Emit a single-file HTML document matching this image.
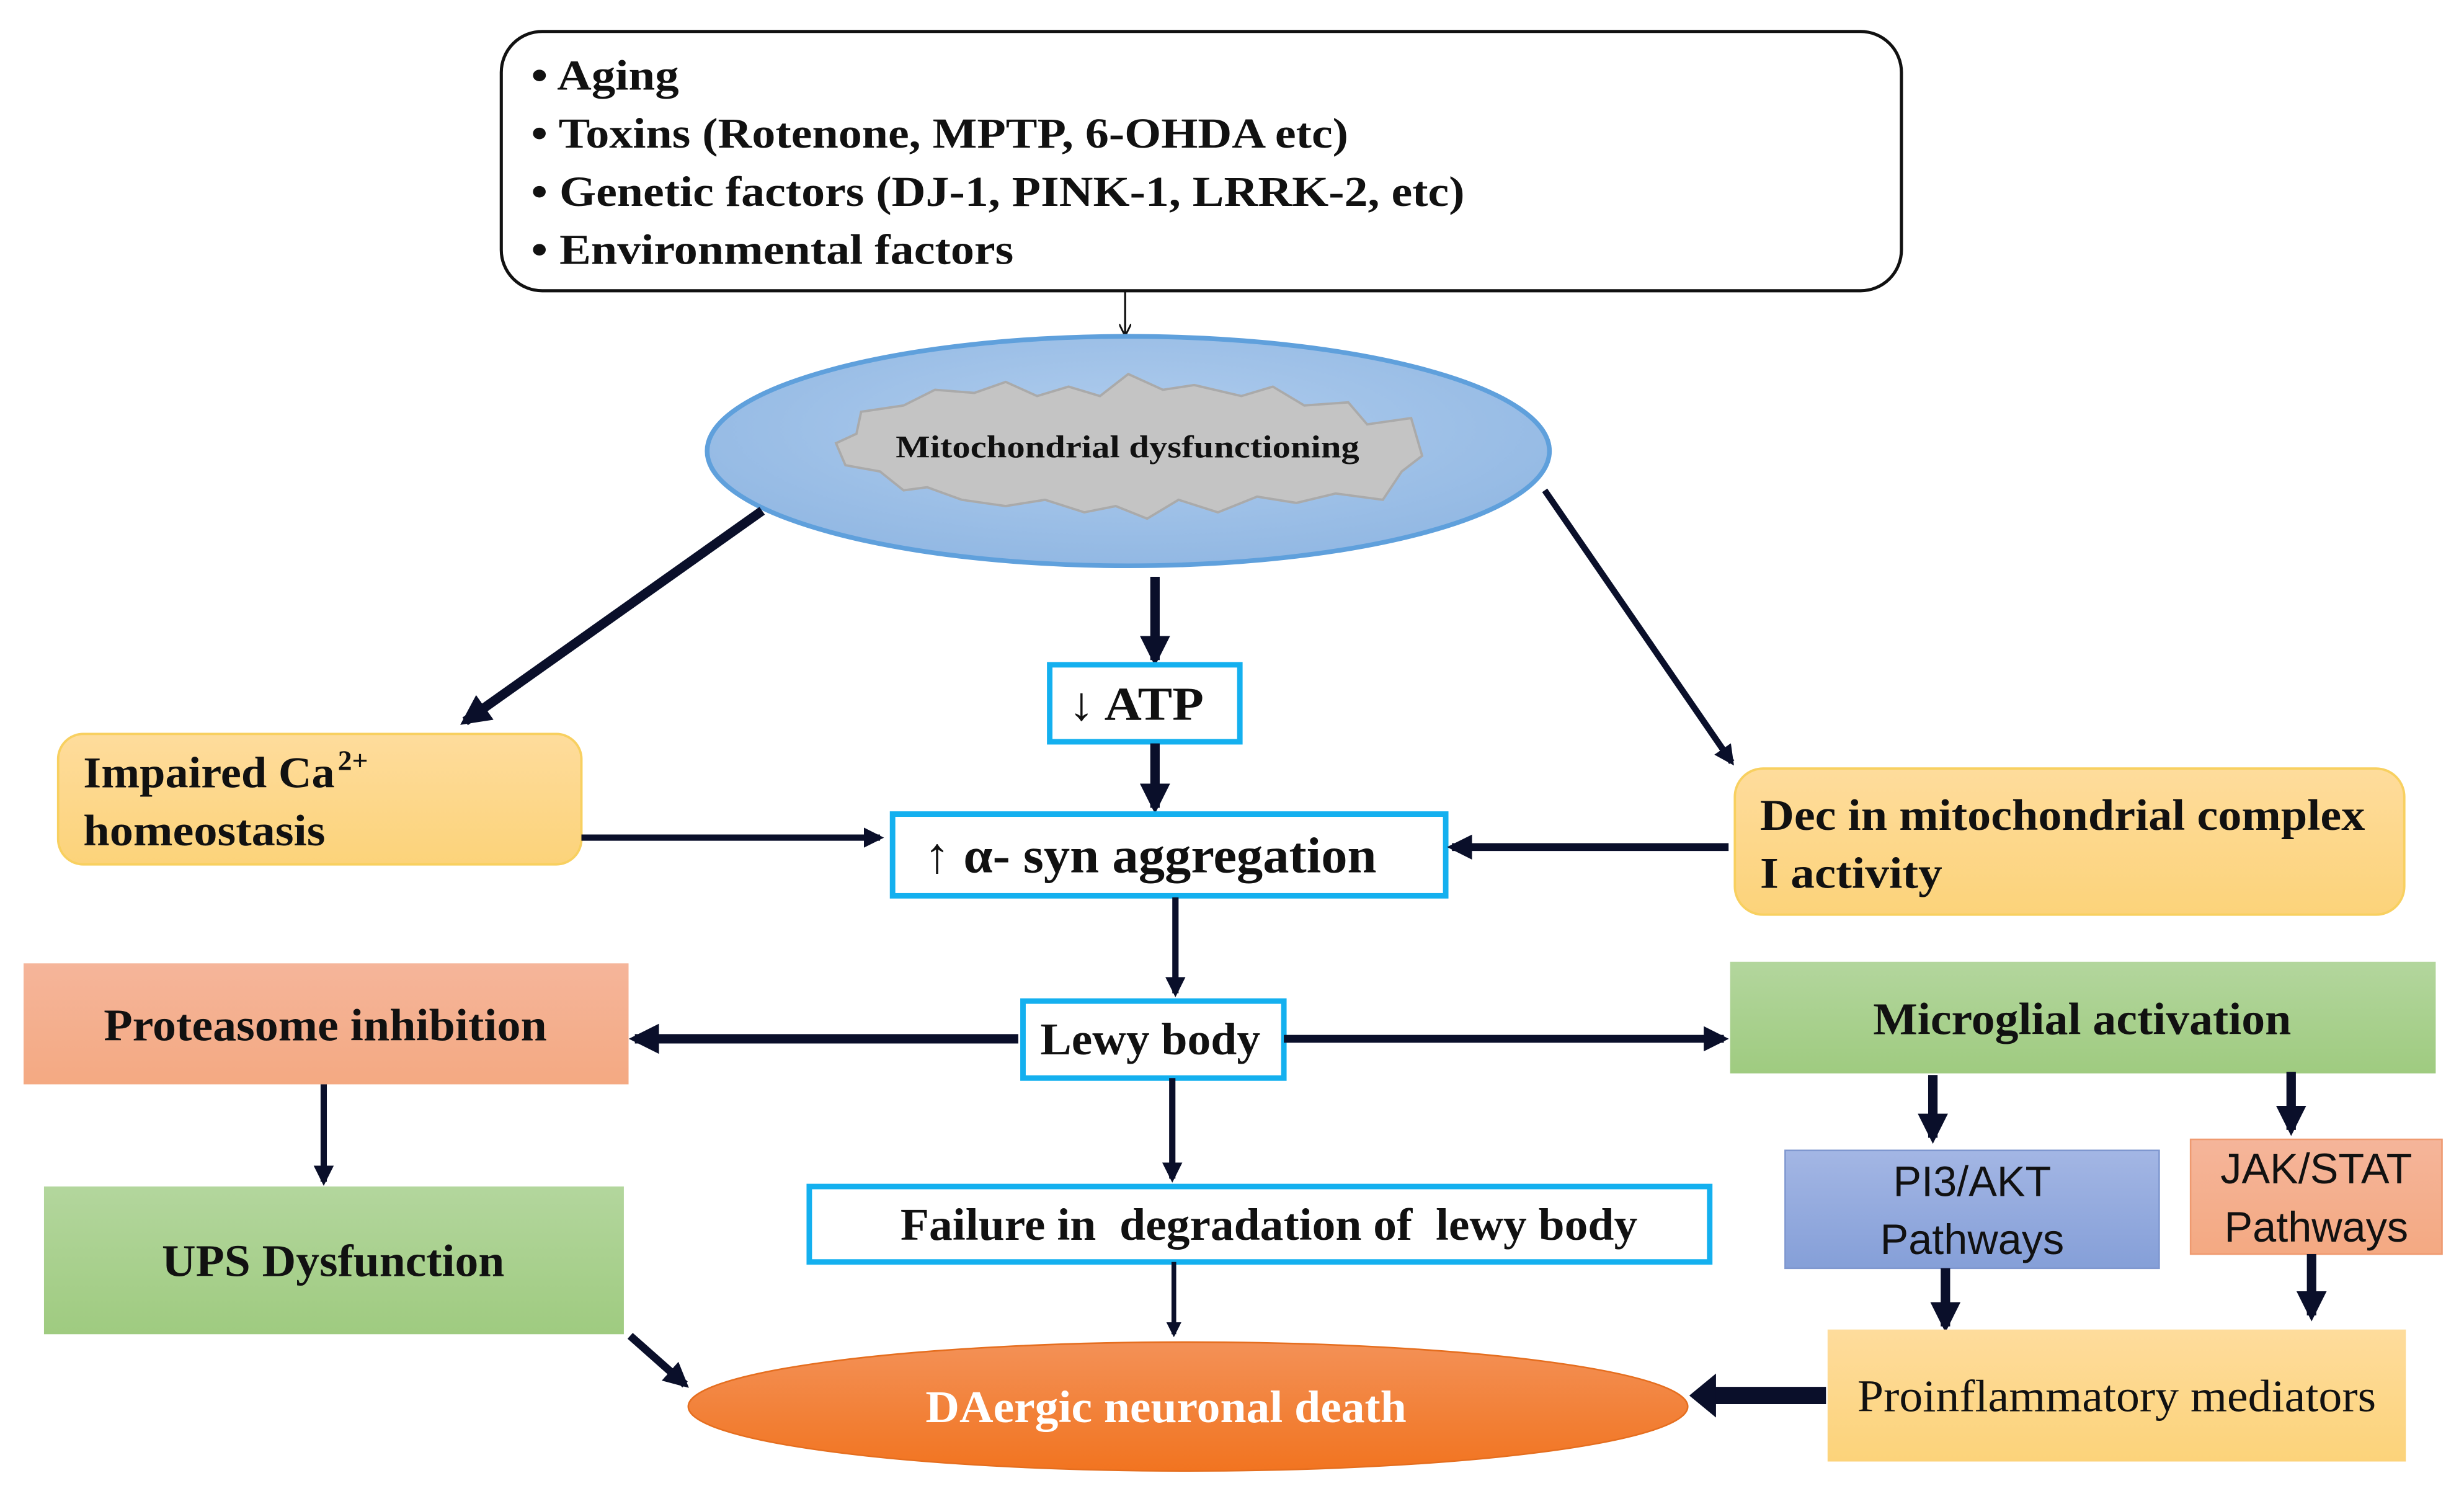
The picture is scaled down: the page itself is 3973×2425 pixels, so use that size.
<!DOCTYPE html>
<html><head><meta charset="utf-8"><style>
html,body{margin:0;padding:0;background:#fff}
svg{display:block}
text{font-family:"Liberation Serif",serif;font-weight:bold;fill:#111}
</style></head><body>
<svg width="3973" height="2425" viewBox="0 0 1568 957" xmlns="http://www.w3.org/2000/svg">
<defs>
<marker id="ah" viewBox="0 0 10 10" refX="8" refY="5" markerWidth="3.2" markerHeight="3.2" orient="auto" markerUnits="strokeWidth"><path d="M0,0 L10,5 L0,10 z" fill="#0a0f2a"/></marker>
<marker id="ahs" viewBox="0 0 10 10" refX="9" refY="5" markerWidth="6" markerHeight="6" orient="auto" markerUnits="strokeWidth"><path d="M0,0 L10,5 L0,10" fill="none" stroke="#111" stroke-width="1.5"/></marker>
<linearGradient id="gy" x1="0" y1="0" x2="0" y2="1"><stop offset="0" stop-color="#fedc9c"/><stop offset="1" stop-color="#fcd37a"/></linearGradient>
<linearGradient id="gs" x1="0" y1="0" x2="0" y2="1"><stop offset="0" stop-color="#f5b59a"/><stop offset="1" stop-color="#f4a982"/></linearGradient>
<linearGradient id="gg" x1="0" y1="0" x2="0" y2="1"><stop offset="0" stop-color="#b3d69d"/><stop offset="1" stop-color="#9fcb80"/></linearGradient>
<linearGradient id="gb" x1="0" y1="0" x2="0" y2="1"><stop offset="0" stop-color="#a3b6e4"/><stop offset="1" stop-color="#859fd8"/></linearGradient>
<linearGradient id="go" x1="0" y1="0" x2="0" y2="1"><stop offset="0" stop-color="#f39157"/><stop offset="1" stop-color="#f27420"/></linearGradient>
<radialGradient id="ge" cx="0.5" cy="0.4" r="0.6"><stop offset="0" stop-color="#b0cdee"/><stop offset="1" stop-color="#92b8e3"/></radialGradient>
</defs>

<rect x="319" y="20" width="891" height="165" rx="26" fill="#fff" stroke="#111" stroke-width="2"/>
<text x="338" y="57" font-size="27" textLength="94" lengthAdjust="spacingAndGlyphs">• Aging</text>
<text x="338" y="94" font-size="27" textLength="520" lengthAdjust="spacingAndGlyphs">• Toxins (Rotenone, MPTP, 6-OHDA etc)</text>
<text x="338" y="131" font-size="27" textLength="594" lengthAdjust="spacingAndGlyphs">• Genetic factors (DJ-1, PINK-1, LRRK-2, etc)</text>
<text x="338" y="168" font-size="27" textLength="307" lengthAdjust="spacingAndGlyphs">• Environmental factors</text>
<line x1="716" y1="185" x2="716" y2="213" stroke="#111" stroke-width="1.3" marker-end="url(#ahs)"/>

<ellipse cx="718" cy="287" rx="268" ry="73" fill="url(#ge)" stroke="#5fa0dc" stroke-width="3"/>
<path d="M548,262 L575,258 L595,248 L620,250 L640,243 L660,252 L680,246 L700,252 L718,238 L740,248 L760,245 L790,252 L810,246 L830,258 L858,256 L870,270 L898,266 L905,290 L892,300 L880,318 L850,314 L825,320 L800,316 L775,326 L750,318 L730,330 L710,322 L690,326 L665,318 L640,322 L612,318 L590,310 L575,312 L560,300 L538,296 L532,282 L545,276 Z" fill="#c4c4c4" stroke="#aaa" stroke-width="1.5"/>
<text x="570" y="291" font-size="20" textLength="295" lengthAdjust="spacingAndGlyphs">Mitochondrial dysfunctioning</text>

<line x1="485" y1="325" x2="296" y2="459" stroke="#0a0f2a" stroke-width="6" marker-end="url(#ah)"/>
<line x1="735" y1="367" x2="735" y2="420" stroke="#0a0f2a" stroke-width="6" marker-end="url(#ah)"/>
<line x1="983" y1="312" x2="1102" y2="485" stroke="#0a0f2a" stroke-width="4" marker-end="url(#ah)"/>

<rect x="668" y="423" width="121" height="49" fill="#fff" stroke="#14b0ef" stroke-width="3.5"/>
<text x="680" y="458" font-size="30" textLength="86" lengthAdjust="spacingAndGlyphs">↓ ATP</text>
<line x1="735" y1="473" x2="735" y2="514" stroke="#0a0f2a" stroke-width="6" marker-end="url(#ah)"/>

<rect x="568" y="518" width="352" height="52" fill="#fff" stroke="#14b0ef" stroke-width="3.5"/>
<text x="588" y="555" font-size="32" textLength="288" lengthAdjust="spacingAndGlyphs">↑ α- syn aggregation</text>

<rect x="37" y="467" width="333" height="83" rx="16" fill="url(#gy)" stroke="#f8d060" stroke-width="1.5"/>
<text x="53" y="501" font-size="28" textLength="160" lengthAdjust="spacingAndGlyphs">Impaired Ca</text>
<text x="215" y="490" font-size="18">2+</text>
<text x="53" y="538" font-size="28" textLength="154" lengthAdjust="spacingAndGlyphs">homeostasis</text>
<line x1="370" y1="533" x2="560" y2="533" stroke="#0a0f2a" stroke-width="4" marker-end="url(#ah)"/>

<rect x="1104" y="489" width="426" height="93" rx="18" fill="url(#gy)" stroke="#f8d060" stroke-width="1.5"/>
<text x="1120" y="528" font-size="28" textLength="385" lengthAdjust="spacingAndGlyphs">Dec in mitochondrial complex</text>
<text x="1120" y="565" font-size="28" textLength="116" lengthAdjust="spacingAndGlyphs">I activity</text>
<line x1="1100" y1="539" x2="924" y2="539" stroke="#0a0f2a" stroke-width="5" marker-end="url(#ah)"/>

<line x1="748" y1="571" x2="748" y2="632" stroke="#0a0f2a" stroke-width="4" marker-end="url(#ah)"/>

<rect x="651" y="637" width="166" height="49" fill="#fff" stroke="#14b0ef" stroke-width="3.5"/>
<text x="662" y="671" font-size="29" textLength="140" lengthAdjust="spacingAndGlyphs">Lewy body</text>

<rect x="15" y="613" width="385" height="77" fill="url(#gs)"/>
<text x="66" y="662" font-size="29" textLength="282" lengthAdjust="spacingAndGlyphs">Proteasome inhibition</text>
<line x1="648" y1="661" x2="404" y2="661" stroke="#0a0f2a" stroke-width="6" marker-end="url(#ah)"/>

<rect x="1101" y="612" width="449" height="71" fill="url(#gg)"/>
<text x="1192" y="658" font-size="29" textLength="266" lengthAdjust="spacingAndGlyphs">Microglial activation</text>
<line x1="817" y1="661" x2="1097" y2="661" stroke="#0a0f2a" stroke-width="5" marker-end="url(#ah)"/>

<line x1="206" y1="690" x2="206" y2="752" stroke="#0a0f2a" stroke-width="4" marker-end="url(#ah)"/>

<rect x="28" y="755" width="369" height="94" fill="url(#gg)"/>
<text x="103" y="812" font-size="29" textLength="218" lengthAdjust="spacingAndGlyphs">UPS Dysfunction</text>

<line x1="746" y1="686" x2="746" y2="750" stroke="#0a0f2a" stroke-width="4" marker-end="url(#ah)"/>

<rect x="515" y="755" width="573" height="48" fill="#fff" stroke="#14b0ef" stroke-width="3.5"/>
<text x="573" y="789" font-size="29" textLength="469" lengthAdjust="spacingAndGlyphs" xml:space="preserve">Failure in  degradation of  lewy body</text>
<line x1="747" y1="803" x2="747" y2="849" stroke="#0a0f2a" stroke-width="3" marker-end="url(#ah)"/>

<ellipse cx="756" cy="895" rx="318" ry="41" fill="url(#go)" stroke="#e56e1f" stroke-width="1"/>
<text x="589" y="905" font-size="29" textLength="306" lengthAdjust="spacingAndGlyphs" style="fill:#fff">DAergic neuronal death</text>
<line x1="401" y1="850" x2="436" y2="881" stroke="#0a0f2a" stroke-width="5" marker-end="url(#ah)"/>

<line x1="1230" y1="684" x2="1230" y2="724" stroke="#0a0f2a" stroke-width="6" marker-end="url(#ah)"/>
<line x1="1458" y1="682" x2="1458" y2="719" stroke="#0a0f2a" stroke-width="6" marker-end="url(#ah)"/>
<rect x="1136" y="732" width="238" height="75" fill="url(#gb)" stroke="#7f97cf" stroke-width="1"/>
<text x="1255" y="761" font-size="27" text-anchor="middle" style="font-family:'Liberation Sans',sans-serif;font-weight:normal">PI3/AKT</text>
<text x="1255" y="798" font-size="27" text-anchor="middle" style="font-family:'Liberation Sans',sans-serif;font-weight:normal">Pathways</text>
<rect x="1394" y="725" width="160" height="73" fill="url(#gs)" stroke="#ef9a70" stroke-width="1"/>
<text x="1474" y="753" font-size="27" text-anchor="middle" style="font-family:'Liberation Sans',sans-serif;font-weight:normal">JAK/STAT</text>
<text x="1474" y="790" font-size="27" text-anchor="middle" style="font-family:'Liberation Sans',sans-serif;font-weight:normal">Pathways</text>
<line x1="1238" y1="807" x2="1238" y2="844" stroke="#0a0f2a" stroke-width="6" marker-end="url(#ah)"/>
<line x1="1471" y1="798" x2="1471" y2="837" stroke="#0a0f2a" stroke-width="6" marker-end="url(#ah)"/>

<rect x="1163" y="846" width="368" height="84" fill="url(#gy)"/>
<text x="1182" y="898" font-size="29" textLength="330" lengthAdjust="spacingAndGlyphs" style="font-weight:normal">Proinflammatory mediators</text>
<line x1="1162" y1="888" x2="1090" y2="888" stroke="#0a0f2a" stroke-width="11"/>
<path d="M1092,874 L1075,888 L1092,902 Z" fill="#0a0f2a"/>
</svg>
</body></html>
